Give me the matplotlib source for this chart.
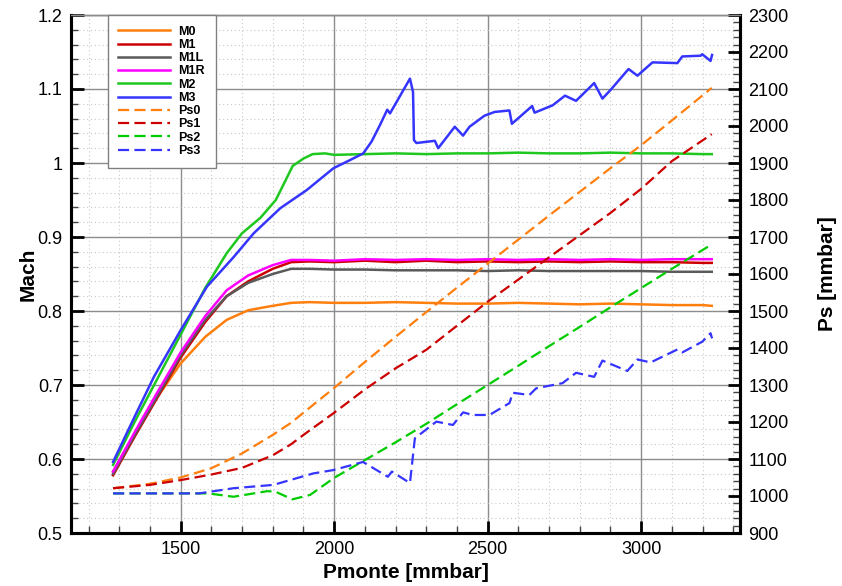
import matplotlib
matplotlib.use("Agg")
import matplotlib.pyplot as plt
from matplotlib.ticker import MultipleLocator

plt.rcParams['font.family'] = ['Liberation Sans', 'DejaVu Sans']

# ---- data ----
x_m = [1280, 1350, 1420, 1500, 1580, 1650, 1720, 1800, 1860, 1920, 2000, 2100, 2200, 2300,
       2400, 2500, 2600, 2700, 2800, 2900, 3000, 3100, 3200, 3230]
m0 = [0.583, 0.633, 0.681, 0.729, 0.765, 0.788, 0.801, 0.807, 0.811, 0.812, 0.811, 0.811, 0.812, 0.811,
      0.810, 0.810, 0.811, 0.810, 0.809, 0.810, 0.809, 0.808, 0.808, 0.807]
m1 = [0.578, 0.630, 0.680, 0.737, 0.785, 0.820, 0.840, 0.857, 0.866, 0.867, 0.866, 0.868, 0.866, 0.868,
      0.866, 0.867, 0.866, 0.867, 0.866, 0.867, 0.866, 0.866, 0.865, 0.865]
m1l = [0.580, 0.632, 0.682, 0.740, 0.788, 0.820, 0.838, 0.850, 0.857, 0.857, 0.856, 0.856, 0.855, 0.855,
       0.855, 0.854, 0.855, 0.854, 0.854, 0.854, 0.854, 0.853, 0.853, 0.853]
m1r = [0.583, 0.636, 0.687, 0.744, 0.793, 0.828, 0.848, 0.862, 0.869, 0.869, 0.868, 0.870, 0.869, 0.870,
       0.869, 0.870, 0.869, 0.870, 0.869, 0.870, 0.869, 0.870, 0.870, 0.870]

x_m2 = [1280, 1350, 1420, 1500, 1580, 1650, 1700, 1760, 1810, 1840, 1865, 1900, 1930, 1970, 2000,
        2100, 2200, 2300, 2400, 2500, 2600, 2700, 2800, 2900, 3000, 3100, 3200, 3230]
m2 = [0.592, 0.650, 0.705, 0.768, 0.831, 0.878, 0.905, 0.926, 0.950, 0.975, 0.996, 1.006, 1.012, 1.013, 1.011,
      1.012, 1.013, 1.012, 1.013, 1.013, 1.014, 1.013, 1.013, 1.014, 1.013, 1.013, 1.012, 1.012]

x_m3 = [1280, 1350, 1413, 1500, 1586, 1673, 1738, 1825, 1911, 1998, 2052, 2095, 2122, 2149, 2173, 2182,
        2247, 2257, 2260, 2268, 2328, 2339, 2393, 2420, 2441, 2490, 2523, 2571, 2579, 2645, 2653, 2712,
        2752, 2788, 2847, 2874, 2901, 2959, 2988, 3037, 3118, 3134, 3194, 3199, 3226, 3231]
m3 = [0.596, 0.657, 0.711, 0.774, 0.833, 0.873, 0.905, 0.939, 0.9635, 0.993, 1.004, 1.013, 1.029, 1.051, 1.072, 1.067,
      1.114, 1.096, 1.031, 1.027, 1.030, 1.020, 1.049, 1.037, 1.049, 1.064, 1.069, 1.071, 1.053, 1.077, 1.068, 1.078,
      1.091, 1.084, 1.108, 1.087, 1.099, 1.127, 1.118, 1.136, 1.135, 1.144, 1.145, 1.147, 1.138, 1.146]

x_ps = [1280, 1400, 1500, 1600, 1700, 1800, 1860, 1900, 2000, 2100, 2200, 2300, 2400, 2500,
        2600, 2700, 2800, 2900, 3000, 3100, 3230]
ps0 = [1021, 1033, 1050, 1075, 1115, 1165, 1198, 1225, 1292, 1362, 1430, 1497, 1563, 1628,
       1693, 1758, 1822, 1886, 1948, 2015, 2103]
ps1 = [1021, 1030, 1043, 1058, 1076, 1110, 1140, 1165, 1225, 1288, 1345, 1395, 1460, 1525,
       1585, 1645, 1705, 1765, 1830, 1905, 1978]

x_ps2 = [1280, 1590, 1672, 1782, 1808, 1864, 1922, 2000, 2100, 2200, 2300, 2400, 2500, 2600,
         2700, 2800, 2900, 3000, 3100, 3230]
ps2 = [1007, 1007, 998, 1013, 1012, 991, 1003, 1049, 1097, 1145, 1195, 1248, 1300, 1352,
       1405, 1457, 1510, 1562, 1614, 1680]

x_ps3 = [1280, 1560, 1672, 1802, 1932, 1997, 2094, 2175, 2188, 2247, 2263, 2333, 2387, 2420, 2452,
         2506, 2571, 2582, 2636, 2658, 2744, 2788, 2847, 2874, 2955, 2988, 3031, 3118, 3134, 3199,
         3226, 3231]
ps3 = [1007, 1007, 1021, 1030, 1061, 1070, 1092, 1052, 1066, 1035, 1156, 1201, 1192, 1226, 1219,
       1219, 1251, 1279, 1273, 1291, 1305, 1333, 1322, 1366, 1338, 1369, 1361, 1396, 1388, 1417,
       1440, 1426]

# ---- figure ----
fig = plt.figure(figsize=(8.42, 5.86), dpi=100)
ax = fig.add_axes([71/842, 53/586, 669/842, 518/586])
ax2 = ax.twinx()

lw = 1.8
dash = (0, (5, 2.4))
c_or, c_red, c_gray, c_mag, c_grn, c_blu = '#FF7F0E', '#CC0000', '#5A5A5A', '#FF00FF', '#1EC81E', '#3535FF'
h = []
h += ax.plot(x_m, m0, color=c_or, lw=lw, label='M0')
h += ax.plot(x_m, m1, color=c_red, lw=lw, label='M1')
h += ax.plot(x_m, m1l, color=c_gray, lw=lw, label='M1L')
h += ax.plot(x_m, m1r, color=c_mag, lw=lw, label='M1R')
h += ax.plot(x_m2, m2, color=c_grn, lw=lw, label='M2')
h += ax.plot(x_m3, m3, color=c_blu, lw=lw, label='M3')
h += ax2.plot(x_ps, ps0, color=c_or, lw=1.6, ls=dash, label='Ps0')
h += ax2.plot(x_ps, ps1, color=c_red, lw=1.6, ls=dash, label='Ps1')
h += ax2.plot(x_ps2, ps2, color='#00CC00', lw=1.6, ls=dash, label='Ps2')
h += ax2.plot(x_ps3, ps3, color=c_blu, lw=1.6, ls=dash, label='Ps3')

ax.set_xlim(1143, 3322)
ax.set_ylim(0.5, 1.2)
ax2.set_ylim(900, 2300)

ax.xaxis.set_major_locator(MultipleLocator(500))
ax.xaxis.set_minor_locator(MultipleLocator(100))
ax.yaxis.set_major_locator(MultipleLocator(0.1))
ax.yaxis.set_minor_locator(MultipleLocator(0.02))
ax2.yaxis.set_major_locator(MultipleLocator(100))
ax2.yaxis.set_minor_locator(MultipleLocator(20))
ax.set_yticks([0.5, 0.6, 0.7, 0.8, 0.9, 1.0, 1.1, 1.2])
ax.set_yticklabels(['0.5', '0.6', '0.7', '0.8', '0.9', '1', '1.1', '1.2'])

ax.grid(which='major', color='#8c8c8c', lw=1.0, ls='-')
ax.grid(which='minor', color='#c8c8c8', lw=0.8, ls=(0, (1, 2.5)))
ax.set_axisbelow(True)

for a in (ax, ax2):
    a.tick_params(which='major', direction='in', length=9, width=2, labelsize=13, pad=6, color='black')
    a.tick_params(which='minor', direction='in', length=5, width=1, color='#444444')
ax.tick_params(axis='x', which='both', top=False)
ax2.tick_params(axis='x', which='both', top=False, bottom=False)
ax.tick_params(axis='y', which='both', right=False)

for a in (ax, ax2):
    a.spines['top'].set_color('#8c8c8c')
    a.spines['top'].set_linewidth(1.0)
    for s in ('left', 'bottom', 'right'):
        a.spines[s].set_linewidth(2.2)
        a.spines[s].set_color('black')

ax.set_xlabel('Pmonte [mmbar]', fontsize=15, fontweight='bold', labelpad=3)
ax.set_ylabel('Mach', fontsize=15, fontweight='bold', labelpad=0)
ax2.set_ylabel('Ps [mmbar]', fontsize=15, fontweight='bold', labelpad=21)

leg = ax2.legend(handles=h, loc='upper left', bbox_to_anchor=(0.055, 1.0),
                 prop={'weight': 'bold', 'size': 9}, frameon=True, fancybox=False,
                 edgecolor='#808080', framealpha=1.0, labelspacing=0.1, handlelength=4.1,
                 handletextpad=0.7, borderpad=0.85, borderaxespad=0.0)
leg.get_frame().set_linewidth(1.0)

fig.savefig('out.png', dpi=100)
